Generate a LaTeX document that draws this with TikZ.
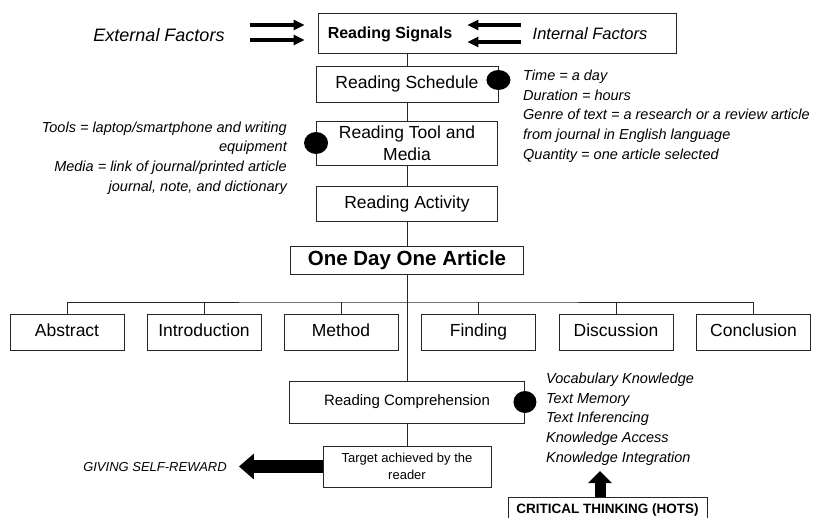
\documentclass[tikz,border=0pt]{standalone}
\usepackage{fontspec}
\setmainfont{Liberation Sans}
\usetikzlibrary{arrows.meta, positioning, shapes.geometric}

\begin{document}
\begin{tikzpicture}[x=1pt, y=-1pt,
    box/.style={draw=black!85, line width=0.9pt, inner sep=0pt, align=center},
    part/.style={box, minimum width=114, minimum height=36, text height=12.5pt, text depth=3.5pt,
        font=\fontsize{17.5}{21}\selectfont},
    link/.style={draw=black!85, line width=0.9pt},
    dot/.style={ellipse, fill=black, inner sep=0pt, minimum width=24, minimum height=20},
    info/.style={inner sep=0pt, font=\itshape\fontsize{14.5}{19.6}\selectfont},
    pair/.style={line width=3.2pt, -{Triangle[length=11pt,width=10pt]}},
    fat/.style={line width=13pt, -{Triangle[length=15pt,width=25pt]}}]
    \useasboundingbox (0,0) rectangle (818,518);

    % Signals
    \node[box, minimum width=358, minimum height=40] (sigbox) at (497,33) {};
    \node[inner sep=0pt, font=\bfseries\fontsize{16}{19}\selectfont] (sig) at (390,34) {Reading Signals};
    \node[inner sep=0pt, font=\itshape\fontsize{16.5}{20}\selectfont] (intf) at (590,34) {Internal Factors};
    \node[inner sep=0pt, font=\itshape\fontsize{18}{22}\selectfont] (extf) at (159,35) {External Factors};
    \draw[pair, shorten <=25pt, shorten >=13pt] ([yshift=10pt]extf.east) -- ([yshift=10pt]extf.east -| sigbox.west);
    \draw[pair, shorten <=25pt, shorten >=13pt] ([yshift=-5pt]extf.east) -- ([yshift=-5pt]extf.east -| sigbox.west);
    \draw[pair, shorten <=11pt, shorten >=15pt] ([yshift=9pt]intf.west) -- ([yshift=9pt]intf.west -| sig.east);
    \draw[pair, shorten <=11pt, shorten >=15pt] ([yshift=-8pt]intf.west) -- ([yshift=-8pt]intf.west -| sig.east);

    % Components
    \node[box, minimum width=182, minimum height=36, font=\fontsize{17.5}{21}\selectfont] (sched) at (407,84) {Reading Schedule};
    \node[box, minimum width=181, minimum height=44, font=\fontsize{17.5}{22}\selectfont] (tool) at (407,143) {Reading Tool and\\Media};
    \node[box, minimum width=181, minimum height=35, font=\fontsize{17.5}{21}\selectfont] (activity) at (407,203.5) {Reading Activity};
    \node[box, minimum width=233, minimum height=28, font=\bfseries\fontsize{20.5}{24}\selectfont] (odoa) at (407,260) {One Day One Article};
    \node[box, minimum width=235, minimum height=42, font=\fontsize{15}{18}\selectfont] (comp) at (407,402) {Reading Comprehension};
    \node[box, minimum width=168, minimum height=41, font=\fontsize{13}{17}\selectfont] (target) at (407,466.5) {Target achieved by the\\reader};
    \node[box, minimum width=199, minimum height=26, font=\bfseries\fontsize{13.5}{16}\selectfont] (hots) at (607.5,510) {CRITICAL THINKING (HOTS)};

    % Article parts
    \foreach \name/\txt/\x in {abs/Abstract/67, intro/Introduction/204, meth/Method/341,
        find/Finding/478.5, disc/Discussion/616, concl/Conclusion/753.5}
        \node[part] (\name) at (\x,332) {\txt};

    % Spine
    \draw[link] (sigbox.south -| sched.north) -- (sched.north);
    \draw[link] (sched) -- (tool);
    \draw[link] (tool) -- (activity);
    \draw[link] (activity) -- (odoa);
    \draw[link] (odoa) -- (comp);
    \draw[link] (comp) -- (target);
    \coordinate (bar) at (407,302);
    \draw[link] (abs.north) |- (bar) -| (concl.north);
    \foreach \n in {intro, meth, find, disc}
        \draw[link] (\n.north) -- (\n.north |- bar);

    % Dots
    \node[dot] at ([yshift=4pt]sched.east) {};
    \node[dot, minimum height=22] at (tool.west) {};
    \node[dot, minimum width=23, minimum height=22] at (comp.east) {};

    % Notes
    \node[info, align=left, anchor=north west] (schedinfo) at (523,70) {Time = a day\\Duration = hours\\Genre of text = a research or a review article\\from journal in English language\\Quantity = one article selected};
    \node[info, align=right, anchor=north east] (toolinfo) at (287,121.5) {Tools = laptop/smartphone and writing\\equipment\\Media = link of journal/printed article\\journal, note, and dictionary};
    \node[info, align=left, anchor=north west] (compinfo) at (546,373) {Vocabulary Knowledge\\Text Memory\\Text Inferencing\\Knowledge Access\\Knowledge Integration};

    % Outcome
    \node[inner sep=0pt, font=\itshape\fontsize{13}{16}\selectfont] (reward) at (155,467) {GIVING SELF-REWARD};
    \draw[fat, shorten >=12pt] (target.west) -- (target.west -| reward.east);
    \coordinate (hotsup) at (600,471);
    \draw[line width=11pt, -{Triangle[length=12pt,width=23pt]}] (hotsup |- hots.north) -- (hotsup);
\end{tikzpicture}
\end{document}
